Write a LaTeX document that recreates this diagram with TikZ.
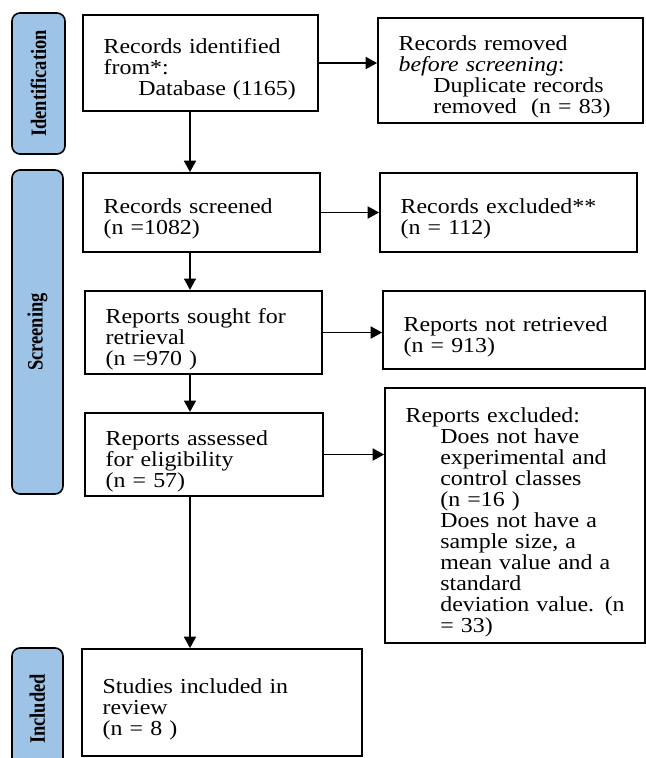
\documentclass[tikz,border=0pt]{standalone}
\usepackage{fontspec}
\setmainfont[FakeStretch=1.12]{Liberation Serif}
\newfontfamily\tabfont[FakeStretch=0.84]{Liberation Serif}
\usepackage{tikz}
\usetikzlibrary{shapes.geometric, arrows, arrows.meta}
\definecolor{tabblue}{HTML}{9DC3E6}
\tikzstyle{phase} = [rectangle, rounded corners=6pt, rotate=90, draw=black, line width=1.2pt, fill=tabblue, text centered, font=\tabfont\fontsize{16.5}{18}\selectfont\bfseries]
\tikzstyle{process} = [rectangle, draw=black, line width=1.4pt, fill=white, align=left, inner xsep=15.5pt, font=\fontsize{16}{15.75}\selectfont, execute at begin node={\rule{0pt}{21pt}}]
\tikzstyle{arrow} = [line width=1.2pt, ->, >={Triangle[length=8.5pt, width=9pt]}]
\newcommand{\ind}{\hspace*{26pt}}

\begin{document}
\begin{tikzpicture}[x=0.75pt, y=-0.75pt]
\clip (0,0) rectangle (646,758);

% phase tabs
\node (ident) [phase, minimum width=105.75pt, minimum height=39.75pt] at (38.5,83.5) {Identification};
\node (screen) [phase, minimum width=243pt, minimum height=38.25pt] at (37.5,332) {Screening};
\node (incl) [phase, minimum width=91.5pt, minimum height=38.25pt] at (37.5,709) {Included};

% main column
\node (identified) [process, text width=145.25pt, minimum height=72pt] at (200.5,63) {Records identified\\from*:\\\ind Database (1165)};
\node (screened) [process, text width=146.75pt, minimum height=59.25pt] at (201.5,212.5) {Records screened\\(n =1082)};
\node (sought) [process, text width=146.75pt, minimum height=59.25pt] at (203.5,332.5) {Reports sought for\\retrieval\\(n =970 )};
\node (assessed) [process, text width=147.5pt, minimum height=59.25pt] at (204,454.5) {Reports assessed\\for eligibility\\(n = 57)};
\node (included) [process, text width=179pt, minimum height=80.25pt] at (222,702.5) {Studies included in\\review\\(n = 8 )};

% side column
\node (removed) [process, text width=167.75pt, minimum height=78.75pt] at (510.5,70.5) {Records removed\\\textit{before screening}:\\\ind Duplicate records\\\ind removed\ \ (n = 83)};
\node (excluded) [process, text width=161.75pt, minimum height=59.25pt] at (508.5,212.5) {Records excluded**\\(n = 112)};
\node (notret) [process, text width=165.5pt, minimum height=58.5pt] at (514,330) {Reports not retrieved\\(n = 913)};
\node (repexcl) [process, execute at begin node={}, text width=164pt, minimum height=191.25pt] at (515,515.5) {Reports excluded:\\\ind Does not have\\\ind experimental and\\\ind control classes\\\ind (n =16 )\\\ind Does not have a\\\ind sample size, a\\\ind mean value and a\\\ind standard\\\ind \mbox{deviation value. (n}\\\ind = 33)};

\coordinate (spine) at (190,0);

\draw [arrow] (identified.south -| spine) -- (screened.north -| spine);
\draw [arrow] (screened.south -| spine) -- (sought.north -| spine);
\draw [arrow] (sought.south -| spine) -- (assessed.north -| spine);
\draw [arrow] (assessed.south -| spine) -- (included.north -| spine);

\draw [arrow] (identified.east) -- (identified.east -| removed.west);
\draw [arrow] (screened.east) -- (excluded.west);
\draw [arrow] (sought.east) -- (sought.east -| notret.west);
\draw [arrow] (assessed.east) -- (assessed.east -| repexcl.west);

\end{tikzpicture}
\end{document}
